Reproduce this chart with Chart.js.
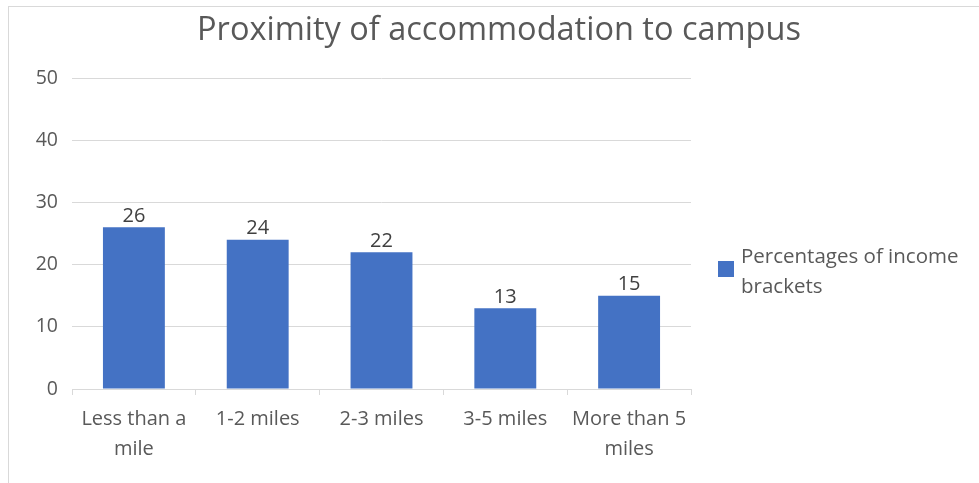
<!DOCTYPE html>
<html>
<head>
<meta charset="utf-8">
<script src="https://cdn.jsdelivr.net/npm/chart.js@4.4.0/dist/chart.umd.min.js"></script>
<style>
  html, body { margin: 0; padding: 0; background: #fff; overflow: hidden; }
  #wrap { position: relative; width: 979px; height: 483px; }
  #frame { position: absolute; left: 8px; top: 6px; width: 1000px; height: 600px; border: 1px solid #d9d9d9; }
  #chart { position: absolute; left: 0; top: 0; }
  #legend { position: absolute; left: 718px; top: 240px; font-family: "Open Sans", sans-serif; font-size: 20.5px; color: #595959; line-height: 30px; white-space: nowrap; }
  #legend .box { position: absolute; left: 0; top: 21px; width: 16px; height: 16px; background: #4472C4; }
  #legend .txt { margin-left: 23px; }
</style>
</head>
<body>
<div id="wrap">
  <div id="frame"></div>
  <canvas id="chart" width="979" height="483"></canvas>
  <div id="legend"><div class="box"></div><div class="txt">Percentages of income<br>brackets</div></div>
</div>
<script>
const title = "Proximity of accommodation to campus";
const categories = [["Less than a", "mile"], "1-2 miles", "2-3 miles", "3-5 miles", ["More than 5", "miles"]];
const seriesName = "Percentages of income brackets";
const values = [26, 24, 22, 13, 15];
const yTicks = [0, 10, 20, 30, 40, 50];

const fontFamily = '"Open Sans", sans-serif';
const grey = "#595959";

// numbers on top of the bars
const barLabels = {
    id: "barLabels",
    afterDatasetsDraw(chart) {
        const ctx = chart.ctx;
        const meta = chart.getDatasetMeta(0);
        ctx.save();
        ctx.font = "20px " + fontFamily;
        ctx.fillStyle = "#404040";
        ctx.textAlign = "center";
        ctx.textBaseline = "bottom";
        meta.data.forEach(function(bar, i) {
            ctx.fillText(values[i], bar.x, bar.y - 1);
        });
        ctx.restore();
    }
};

// title centred on the whole picture, not only over the plot
const pageTitle = {
    id: "pageTitle",
    afterDraw(chart) {
        const ctx = chart.ctx;
        ctx.save();
        ctx.font = "32.5px " + fontFamily;
        ctx.fillStyle = grey;
        ctx.textAlign = "center";
        ctx.textBaseline = "middle";
        ctx.fillText(title, 499, 31);
        ctx.restore();
    }
};

const canvas = document.getElementById("chart");
const ctx = canvas.getContext("2d");

let chart = new Chart(ctx, {
    type: "bar",
    data: {
        labels: categories,
        datasets: [{
            label: seriesName,
            data: values,
            backgroundColor: "#4472C4",
            categoryPercentage: 0.5,
            barPercentage: 1
        }]
    },
    options: {
        responsive: false,
        animation: false,
        layout: { padding: { left: 0, right: 288, top: 78, bottom: 0 } },
        plugins: {
            legend: { display: false },
            tooltip: { enabled: false },
            title: { display: false }
        },
        scales: {
            x: {
                grid: { drawOnChartArea: false, drawTicks: true, tickLength: 6, color: "#d9d9d9" },
                border: { color: "#d9d9d9" },
                ticks: { color: grey, font: { family: fontFamily, size: 20, lineHeight: 1.5 }, padding: 9, maxRotation: 0 },
                afterFit(scale) { scale.height = 94; }
            },
            y: {
                min: 0,
                max: 50,
                afterBuildTicks(scale) { scale.ticks = yTicks.map(v => ({ value: v })); },
                grid: { color: "#d9d9d9", drawTicks: false },
                border: { display: false },
                ticks: { color: grey, font: { family: fontFamily, size: 19.5 }, padding: 14 },
                afterFit(scale) { scale.width = 72; }
            }
        }
    },
    plugins: [barLabels, pageTitle]
});
</script>
</body>
</html>
